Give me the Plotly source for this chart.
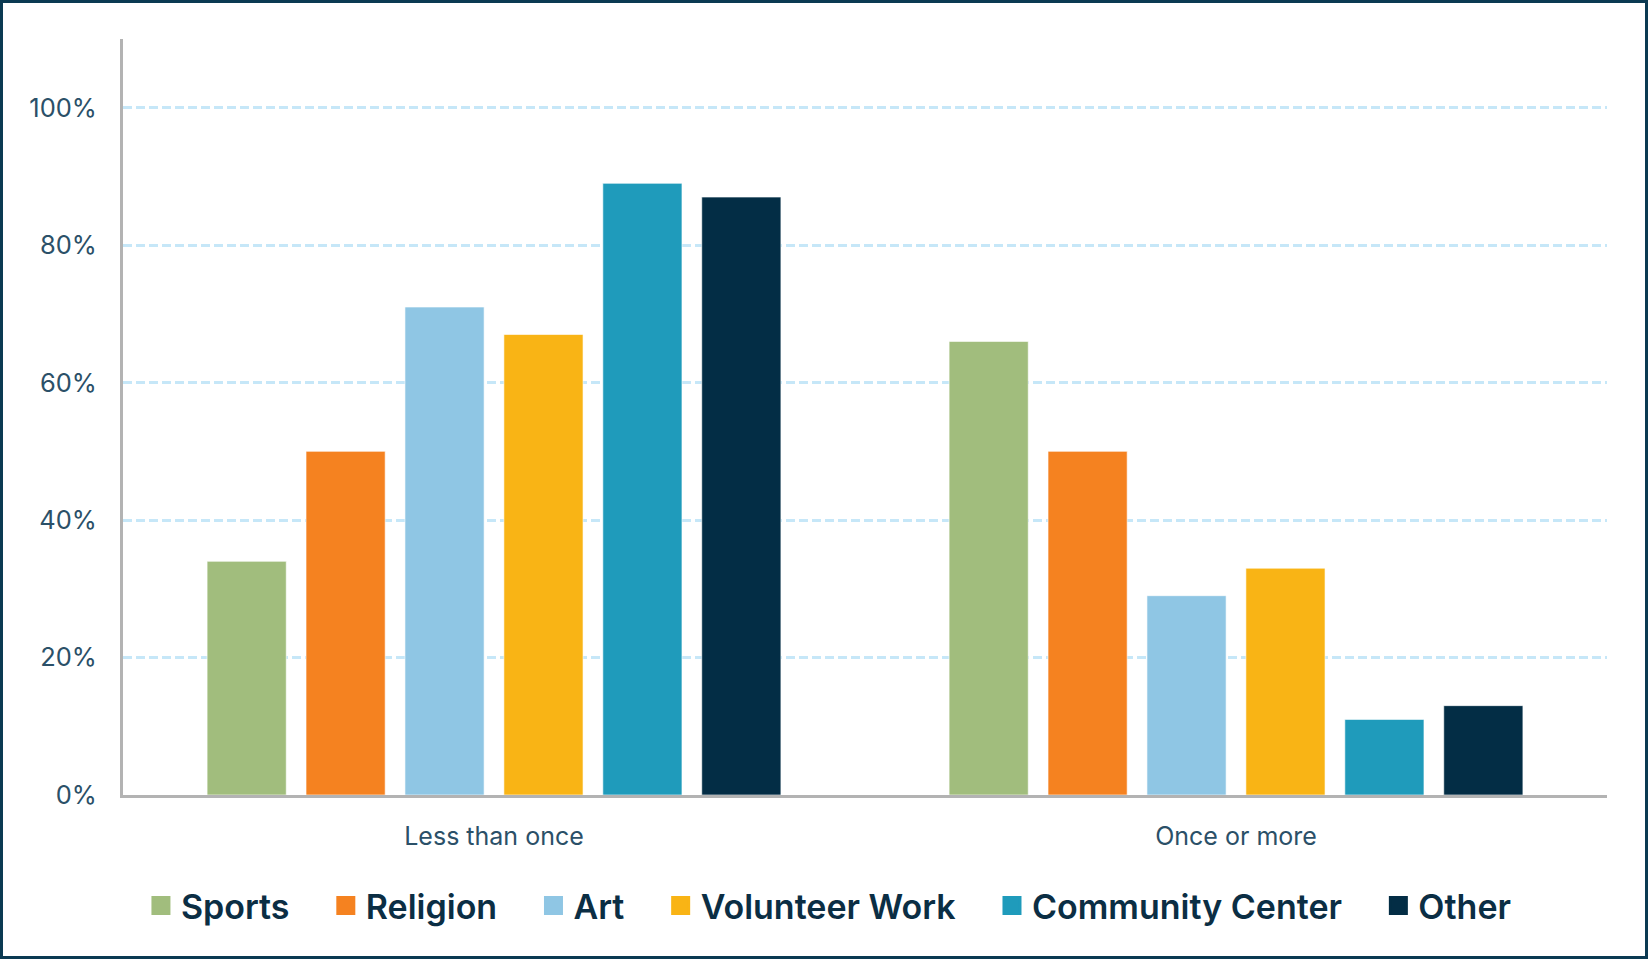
import plotly.graph_objects as go

# Share of respondents by frequency group and activity type (%)
categories = ["Less than once", "Once or more"]
activities = ["Sports", "Religion", "Art", "Volunteer Work", "Community Center", "Other"]
sports = [34, 66]
religion = [50, 50]
art = [71, 29]
volunteer_work = [67, 33]
community_center = [89, 11]
other = [87, 13]
y_ticks = [0, 20, 40, 60, 80, 100]
y_tick_labels = ["0%", "20%", "40%", "60%", "80%", "100%"]

series = [sports, religion, art, volunteer_work, community_center, other]
colors = ["#a1bd7d", "#f58220", "#8fc6e4", "#f9b415", "#1f9bbb", "#032d45"]

W, H = 1648, 959
M = dict(l=123, r=41, t=39, b=164)
PW = W - M["l"] - M["r"]
PH = H - M["t"] - M["b"]

fig = go.Figure()

for name, vals, col in zip(activities, series, colors):
    fig.add_trace(go.Bar(
        x=categories, y=vals, name=name, showlegend=False,
        marker=dict(color=col, line=dict(color="rgba(255,255,255,0.6)", width=1)),
    ))

# legend entries drawn as square markers, padded for wider spacing
pad = "\u00a0\u00a0\u00a0\u2009"
for i, (name, col) in enumerate(zip(activities, colors)):
    label = name + (pad if i < len(activities) - 1 else "")
    fig.add_trace(go.Scatter(
        x=[None], y=[None], mode="markers", name=label,
        marker=dict(symbol="square", size=16, color=col, line=dict(color=col, width=3)),
    ))

# outer frame around the whole figure
fig.add_shape(
    type="rect", xref="paper", yref="paper",
    x0=(1.5 - M["l"]) / PW, x1=(W - 1.5 - M["l"]) / PW,
    y0=-(M["b"] - 1.5) / PH, y1=1 + (M["t"] - 1.5) / PH,
    line=dict(color="#0b3a52", width=3), fillcolor="rgba(0,0,0,0)", layer="above",
)

fig.update_layout(
    width=W, height=H, margin=M,
    paper_bgcolor="white", plot_bgcolor="white",
    barmode="group", bargap=0.2, bargroupgap=0.2,
    font=dict(family="Inter", color="#2b5068"),
    xaxis=dict(
        showline=True, linecolor="#b3b3b3", linewidth=3,
        showgrid=False, ticks="", tickfont=dict(size=25, color="#2b5068"),
        ticklabelstandoff=17,
    ),
    yaxis=dict(
        range=[0, 110], tickvals=y_ticks, ticktext=y_tick_labels,
        showline=True, linecolor="#b3b3b3", linewidth=3,
        showgrid=True, gridcolor="#c6e7f8", gridwidth=3, griddash="9px,4px",
        zeroline=False, ticks="", tickfont=dict(size=25.5, color="#2b5068"),
        ticklabelstandoff=18,
    ),
    legend=dict(
        orientation="h", xref="container", yref="container",
        x=0.503, xanchor="center", y=1 - 906 / H, yanchor="middle",
        font=dict(family="Inter", size=34, color="#0b2e44", weight=600),
        bgcolor="rgba(0,0,0,0)",
    ),
)

fig.write_html("out.html")
